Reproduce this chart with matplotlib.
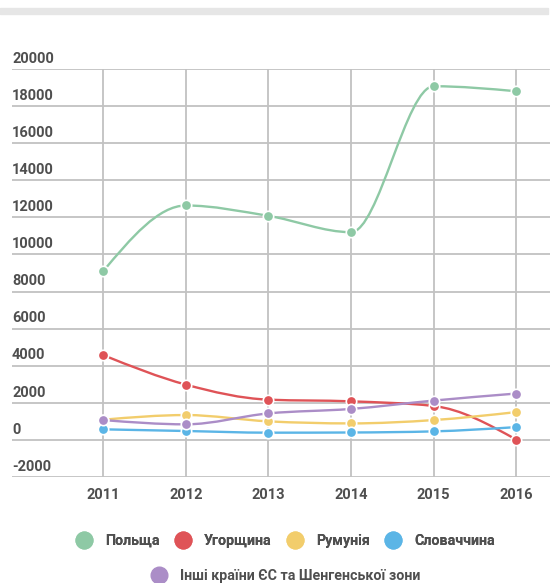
import matplotlib.pyplot as plt
import numpy as np
from matplotlib.lines import Line2D
from matplotlib.path import Path
from matplotlib.patches import PathPatch, Rectangle
import matplotlib.transforms as mtransforms

plt.rcParams['font.family'] = ['Roboto', 'DejaVu Sans']

years = [2011, 2012, 2013, 2014, 2015, 2016]
poland = [9110, 12640, 12080, 11200, 19070, 18800]
hungary = [4570, 2980, 2170, 2080, 1830, 20]
romania = [1090, 1340, 1000, 890, 1070, 1500]
slovakia = [570, 480, 390, 400, 460, 690]
others = [1070, 840, 1430, 1670, 2120, 2500]

names = ["Польща", "Угорщина", "Румунія", "Словаччина",
         "Інші країни ЄС та Шенгенської зони"]
colors = ["#8ec9a5", "#df5357", "#f2cd6c", "#5bb5e6", "#ab8dc7"]
y_ticks = [-2000, 0, 2000, 4000, 6000, 8000, 10000, 12000,
           14000, 16000, 18000, 20000]

TEXT = "#4f4f4f"


def monotone_path(x, y):
    """Гладкая кривая как d3.curveMonotoneX (кубические Безье)."""
    x = np.asarray(x, float)
    y = np.asarray(y, float)
    n = len(x)
    h = np.diff(x)
    s = np.diff(y) / h
    t = np.zeros(n)
    for i in range(1, n - 1):
        p = (s[i - 1] * h[i] + s[i] * h[i - 1]) / (h[i - 1] + h[i])
        t[i] = (np.sign(s[i - 1]) + np.sign(s[i])) * min(
            abs(s[i - 1]), abs(s[i]), 0.5 * abs(p))
    t[0] = (3 * s[0] - t[1]) / 2
    t[-1] = (3 * s[-1] - t[-2]) / 2
    verts = [(x[0], y[0])]
    codes = [Path.MOVETO]
    for i in range(n - 1):
        dx = h[i] / 3
        verts += [(x[i] + dx, y[i] + dx * t[i]),
                  (x[i + 1] - dx, y[i + 1] - dx * t[i + 1]),
                  (x[i + 1], y[i + 1])]
        codes += [Path.CURVE4] * 3
    return Path(verts, codes)


fig = plt.figure(figsize=(5.5, 5.83), dpi=100)
fig.patches.append(Rectangle((0, 1 - 14 / 583), 548 / 550, 6 / 583,
                             transform=fig.transFigure,
                             color="#e6e6e6", zorder=0))

ax = fig.add_axes([12 / 550, 106 / 583, 538 / 550, 408 / 583])
ax.set_xlim(2009.893, 2016.41)
ax.set_ylim(-2000, 20000)
for sp in ax.spines.values():
    sp.set_visible(False)

ax.set_yticks(y_ticks)
ax.set_xticks(years)
ax.grid(True, color="#c2c2c2", linewidth=1.3)
ax.set_axisbelow(True)
ax.tick_params(length=0, labelleft=False, pad=8)
ax.set_xticklabels([str(y) for y in years], fontsize=10.5,
                   fontweight="bold", color=TEXT)

trans = mtransforms.blended_transform_factory(ax.transAxes, ax.transData)
for v in y_ticks:
    ax.annotate(str(v), xy=(0, v), xycoords=trans, xytext=(0, 4.5),
                textcoords="offset points", ha="left", va="baseline",
                fontsize=10.5, fontweight="bold", color=TEXT)

series = [poland, hungary, romania, slovakia, others]
for vals, c in zip(series, colors):
    ax.add_patch(PathPatch(monotone_path(years, vals), fill=False,
                           edgecolor=c, linewidth=1.7, clip_on=False))
    ax.plot(years, vals, linestyle="none", marker="o", markersize=7.5,
            markerfacecolor=c, markeredgecolor="white",
            markeredgewidth=1.2, clip_on=False)

handles = [Line2D([], [], linestyle="none", marker="o", markersize=12,
                  markerfacecolor=c, markeredgecolor=c) for c in colors]

leg1 = fig.legend(handles[:4], names[:4], ncol=4, loc="center",
                  bbox_to_anchor=(0.52, 1 - 541 / 583), frameon=False,
                  handletextpad=0.95, columnspacing=1.15, handlelength=1.0,
                  prop={"size": 10.3, "weight": "bold"})
leg2 = fig.legend(handles[4:], names[4:], ncol=1, loc="center",
                  bbox_to_anchor=(0.52, 1 - 576 / 583), frameon=False,
                  handletextpad=0.95, handlelength=1.0,
                  prop={"size": 10.3, "weight": "bold"})
for leg in (leg1, leg2):
    for t in leg.get_texts():
        t.set_color(TEXT)
fig.add_artist(leg1)

fig.savefig("out.png", dpi=100)
